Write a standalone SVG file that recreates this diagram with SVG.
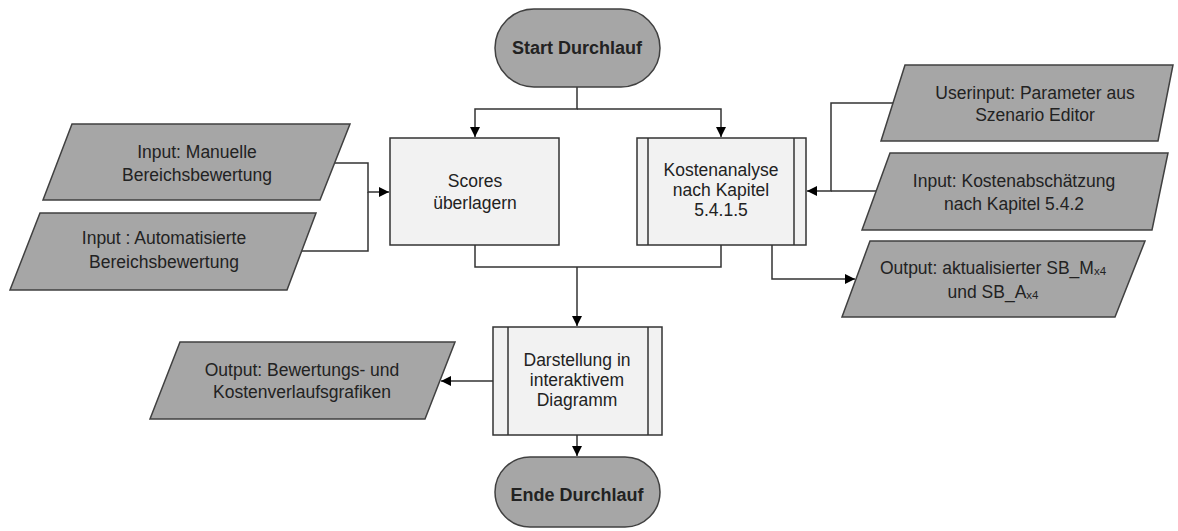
<svg xmlns="http://www.w3.org/2000/svg" width="1178" height="531" viewBox="0 0 1178 531">
<style>
.term{fill:#a6a6a6;stroke:#404040;stroke-width:1.5}
.io{fill:#a6a6a6;stroke:#404040;stroke-width:1.5}
.proc{fill:#f2f2f2;stroke:#333;stroke-width:1.5}
.ln{fill:none;stroke:#333;stroke-width:1.5}
text{font-family:"Liberation Sans",Arial,sans-serif;font-size:17.5px;fill:#222;text-anchor:middle}
.b{font-weight:bold;font-size:18px}
.sub{font-size:11.5px}
</style>
<defs>
<marker id="ah" viewBox="0 0 10 10" refX="10" refY="5" markerWidth="10" markerHeight="10" markerUnits="userSpaceOnUse" orient="auto">
<path d="M0,0 L10,5 L0,10 z" fill="#000"/>
</marker>
</defs>
<g id="connectors">
<path class="ln" d="M577,87 V109 H475 V137" marker-end="url(#ah)"/>
<path class="ln" d="M577,109 H721 V137" marker-end="url(#ah)"/>
<path class="ln" d="M335,163 H368 V192 H389" marker-end="url(#ah)"/>
<path class="ln" d="M301,251 H368 V192"/>
<path class="ln" d="M893,103 H831 V191 H807" marker-end="url(#ah)"/>
<path class="ln" d="M876,191 H831"/>
<path class="ln" d="M475,245 V267 H721 V245"/>
<path class="ln" d="M577,267 V326" marker-end="url(#ah)"/>
<path class="ln" d="M772,245 V279 H855" marker-end="url(#ah)"/>
<path class="ln" d="M493,381 H441" marker-end="url(#ah)"/>
<path class="ln" d="M577,435 V456" marker-end="url(#ah)"/>
</g>
<g id="start">
<rect class="term" x="495" y="9" width="165" height="78" rx="39" ry="39"/>
<text class="b" x="577" y="54">Start Durchlauf</text>
</g>
<g id="input-manuelle">
<polygon class="io" points="72,124 350,124 320,200 43,200"/>
<text x="197" y="158">Input: Manuelle</text>
<text x="197" y="181">Bereichsbewertung</text>
</g>
<g id="input-auto">
<polygon class="io" points="40,213 316,213 287,290 10,290"/>
<text x="164" y="244">Input : Automatisierte</text>
<text x="164" y="268">Bereichsbewertung</text>
</g>
<g id="scores">
<rect class="proc" x="390" y="138" width="169" height="107"/>
<text x="475" y="187">Scores</text>
<text x="475" y="209">überlagern</text>
</g>
<g id="kosten">
<rect class="proc" x="637" y="138" width="169" height="107"/>
<line class="ln" x1="648" y1="138" x2="648" y2="245"/>
<line class="ln" x1="794" y1="138" x2="794" y2="245"/>
<text x="721" y="176">Kostenanalyse</text>
<text x="721" y="196">nach Kapitel</text>
<text x="721" y="216">5.4.1.5</text>
</g>
<g id="userinput">
<polygon class="io" points="905,65 1173,65 1158,141 881,141"/>
<text x="1035" y="99">Userinput: Parameter aus</text>
<text x="1035" y="121">Szenario Editor</text>
</g>
<g id="input-kosten">
<polygon class="io" points="890,153 1168,153 1152,230 862,230"/>
<text x="1014" y="187">Input: Kostenabschätzung</text>
<text x="1014" y="210">nach Kapitel 5.4.2</text>
</g>
<g id="output-sb">
<polygon class="io" points="870,241 1145,241 1115,317 842,317"/>
<text x="993" y="274">Output: aktualisierter SB_M<tspan class="sub" dy="1">x4</tspan></text>
<text x="993" y="298">und SB_A<tspan class="sub" dy="1">x4</tspan></text>
</g>
<g id="darstellung">
<rect class="proc" x="493" y="327" width="169" height="108"/>
<line class="ln" x1="508" y1="327" x2="508" y2="435"/>
<line class="ln" x1="648" y1="327" x2="648" y2="435"/>
<text x="577" y="366">Darstellung in</text>
<text x="577" y="386">interaktivem</text>
<text x="577" y="406">Diagramm</text>
</g>
<g id="output-grafik">
<polygon class="io" points="180,342 455,342 425,419 150,419"/>
<text x="302" y="376">Output: Bewertungs- und</text>
<text x="302" y="398">Kostenverlaufsgrafiken</text>
</g>
<g id="ende">
<rect class="term" x="495" y="457" width="165" height="70" rx="35" ry="35"/>
<text class="b" x="577" y="501">Ende Durchlauf</text>
</g>
</svg>
